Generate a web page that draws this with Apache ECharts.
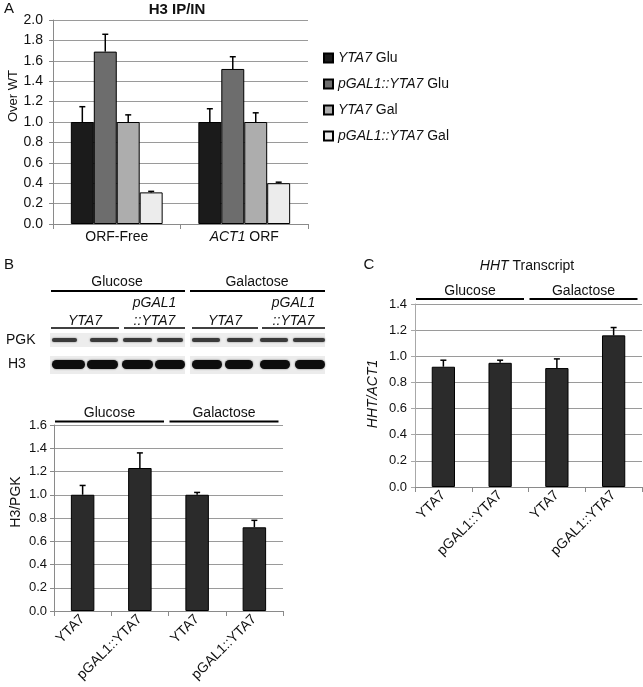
<!DOCTYPE html>
<html>
<head>
<meta charset="utf-8">
<script src="https://cdn.jsdelivr.net/npm/echarts@6/dist/echarts.min.js"></script>
<style>
html,body{margin:0;padding:0;background:#fff;}
#c{width:643px;height:687px;}
</style>
</head>
<body>
<div id="c"></div>
<script>
// ---------- Panel A data ----------
const aCategories = ['ORF-Free', 'ACT1 ORF'];
const aSeriesNames = ['YTA7 Glu', 'pGAL1::YTA7 Glu', 'YTA7 Gal', 'pGAL1::YTA7 Gal'];
const aYta7Glu = [1.00, 1.00];
const aPgalGlu = [1.69, 1.52];
const aYta7Gal = [1.00, 1.00];
const aPgalGal = [0.31, 0.40];
const aYta7GluErr = [0.15, 0.13];
const aPgalGluErr = [0.17, 0.12];
const aYta7GalErr = [0.07, 0.09];
const aPgalGalErr = [0.01, 0.01];
const aYTicks = [0, 2.0, 0.2]; // min, max, interval

// ---------- Panel B data ----------
const bCategories = ['YTA7', 'pGAL1::YTA7', 'YTA7', 'pGAL1::YTA7'];
const bGroups = ['Glucose', 'Galactose'];
const bValues = [1.00, 1.23, 1.00, 0.72];
const bErr = [0.08, 0.13, 0.02, 0.06];
const bYTicks = [0, 1.6, 0.2];

// ---------- Panel C data ----------
const cCategories = ['YTA7', 'pGAL1::YTA7', 'YTA7', 'pGAL1::YTA7'];
const cGroups = ['Glucose', 'Galactose'];
const cValues = [0.92, 0.95, 0.91, 1.16];
const cErr = [0.05, 0.02, 0.07, 0.06];
const cYTicks = [0, 1.4, 0.2];

const FONT = '"Liberation Sans", Arial, sans-serif';
const aValuesAll = [aYta7Glu, aPgalGlu, aYta7Gal, aPgalGal];
const aErrAll = [aYta7GluErr, aPgalGluErr, aYta7GalErr, aPgalGalErr];
const aColors = ['#1b1b1b', '#6d6d6d', '#adadad', '#ececec'];

function errSeries(axisIdx, vals, errs, offsetFrac) {
  return {
    type: 'custom',
    xAxisIndex: axisIdx, yAxisIndex: axisIdx,
    z: 5,
    silent: true,
    encode: {x: 0, y: [1, 2]},
    data: vals.map((v, i) => [i, v, v + errs[i]]),
    renderItem: function (params, api) {
      const c = api.coord([api.value(0), api.value(1)]);
      const t = api.coord([api.value(0), api.value(2)]);
      const band = api.size([1, 0])[0];
      const x = c[0] + offsetFrac * band;
      const st = {stroke: '#000', lineWidth: 1.5};
      return {type: 'group', children: [
        {type: 'line', shape: {x1: x, y1: c[1], x2: x, y2: t[1]}, style: st},
        {type: 'line', shape: {x1: x - 3, y1: t[1], x2: x + 3, y2: t[1]}, style: st}
      ]};
    }
  };
}

function italicFirst(name) {
  const i = name.indexOf(' ');
  if (i < 0) return '{i|' + name + '}';
  return '{i|' + name.slice(0, i) + '}' + name.slice(i);
}

function yAxisCfg(idx, ticks, fs, margin, lineColor) {
  return {
    type: 'value', gridIndex: idx, min: ticks[0], max: ticks[1], interval: ticks[2],
    axisLine: {show: true, lineStyle: {color: lineColor, width: 1}},
    axisTick: {show: true, length: 4, lineStyle: {color: lineColor}},
    splitLine: {show: true, lineStyle: {color: '#9a9a9a', width: 1}},
    axisLabel: {fontFamily: FONT, fontSize: fs, color: '#111', margin: margin,
      formatter: v => v.toFixed(1)}
  };
}

function xAxisCfg(idx, cats, rotate, fs, margin) {
  return {
    type: 'category', gridIndex: idx, data: cats,
    axisLine: {show: true, lineStyle: {color: '#8a8a8a', width: 1}},
    axisTick: {show: true, length: 5, lineStyle: {color: '#8a8a8a'}},
    axisLabel: {
      fontFamily: FONT, fontSize: fs, color: '#111', margin: margin, rotate: rotate,
      interval: 0,
      formatter: rotate ? (v => v) : (v => v === 'ACT1 ORF' ? '{i|ACT1} ORF' : v),
      rich: {i: {fontStyle: 'italic', fontFamily: FONT, fontSize: fs, color: '#111'}}
    }
  };
}

const series = [];
aSeriesNames.forEach((n, k) => {
  series.push({
    name: n, type: 'bar', xAxisIndex: 0, yAxisIndex: 0,
    data: aValuesAll[k], barWidth: '18%', barGap: '0%',
    itemStyle: {color: aColors[k], borderColor: '#000', borderWidth: 1},
    silent: true
  });
});
aSeriesNames.forEach((n, k) => {
  series.push(errSeries(0, aValuesAll[k], aErrAll[k], (k - 1.5) * 0.18));
});
series.push({
  name: 'H3/PGK', type: 'bar', xAxisIndex: 1, yAxisIndex: 1, data: bValues,
  barWidth: '41%', itemStyle: {color: '#2b2b2b', borderColor: '#000', borderWidth: 1}, silent: true
});
series.push(errSeries(1, bValues, bErr, 0));
series.push({
  name: 'HHT/ACT1', type: 'bar', xAxisIndex: 2, yAxisIndex: 2, data: cValues,
  barWidth: '41%', itemStyle: {color: '#2b2b2b', borderColor: '#000', borderWidth: 1}, silent: true
});
series.push(errSeries(2, cValues, cErr, 0));

const chart = echarts.init(document.getElementById('c'), null, {renderer: 'canvas'});
chart.setOption({
  animation: false,
  backgroundColor: '#fff',
  textStyle: {fontFamily: FONT},
  grid: [
    {left: 53, top: 20, width: 255, height: 204},
    {left: 54, top: 425, width: 229, height: 186},
    {left: 415, top: 304, width: 227, height: 183}
  ],
  xAxis: [
    xAxisCfg(0, aCategories, 0, 14, 6),
    xAxisCfg(1, bCategories, 45, 14, 6),
    xAxisCfg(2, cCategories, 45, 14, 6)
  ],
  yAxis: [
    yAxisCfg(0, aYTicks, 14, 10, '#8a8a8a'),
    yAxisCfg(1, bYTicks, 13, 7, '#8a8a8a'),
    yAxisCfg(2, cYTicks, 13, 8, '#a8a8a8')
  ],
  legend: {
    data: aSeriesNames, orient: 'vertical', left: 318, top: 45,
    icon: 'rect', itemWidth: 9, itemHeight: 9, itemGap: 10,
    formatter: italicFirst,
    textStyle: {fontFamily: FONT, fontSize: 14, color: '#111', lineHeight: 16,
      rich: {i: {fontStyle: 'italic', fontFamily: FONT, fontSize: 14, color: '#111', lineHeight: 16}}},
    selectedMode: false
  },
  series: series
});

// ---------- annotations ----------
const g = [];
function txt(x, y, s, opts) {
  g.push({type: 'text', x: x, y: y, silent: true,
    style: Object.assign({text: s, fontFamily: FONT, fontSize: 14, fill: '#111',
      align: 'center', verticalAlign: 'middle'}, opts || {})});
}
function richTxt(x, y, s, opts, rotation) {
  g.push({type: 'text', x: x, y: y, rotation: rotation || 0, silent: true,
    style: Object.assign({text: s, fontFamily: FONT, fontSize: 14, fill: '#111',
      align: 'center', verticalAlign: 'middle',
      rich: {i: {fontStyle: 'italic', fontFamily: FONT, fontSize: (opts && opts.fontSize) || 14, fill: '#111'}}}, opts || {})});
}
function line(x1, y1, x2, y2, w, col) {
  g.push({type: 'line', silent: true, shape: {x1: x1, y1: y1, x2: x2, y2: y2},
    style: {stroke: col || '#000', lineWidth: w}});
}

// Panel letters and titles
txt(9, 9, 'A', {fontSize: 15});
txt(9, 265, 'B', {fontSize: 15});
txt(369, 265, 'C', {fontSize: 15});
txt(177, 10, 'H3 IP/IN', {fontWeight: 'bold', fontSize: 15});
richTxt(527, 266, '{i|HHT} Transcript');

// Y axis names
richTxt(13, 96, 'Over WT', {fontSize: 13}, Math.PI / 2);
richTxt(16, 502, 'H3/PGK', {fontSize: 14}, Math.PI / 2);
richTxt(373, 394, '{i|HHT/ACT1}', {fontSize: 14}, Math.PI / 2);

// Group header lines computed from axes
function headers(axisIdx, yTop, groups, lineOff, textOff) {
  const p0 = chart.convertToPixel({xAxisIndex: axisIdx}, 0);
  const p1 = chart.convertToPixel({xAxisIndex: axisIdx}, 1);
  const band = p1 - p0;
  const yPix = chart.convertToPixel({yAxisIndex: axisIdx}, yTop);
  groups.forEach((name, gi) => {
    const left = p0 + band * (2 * gi) - band / 2 + 1;
    const right = p0 + band * (2 * gi + 1) + band / 2 - 4.5;
    line(left, yPix - lineOff, right, yPix - lineOff, 2);
    txt((left + right) / 2, yPix - textOff, name);
  });
}
headers(1, bYTicks[1], bGroups, 3.5, 12);
headers(2, cYTicks[1], cGroups, 5, 13);

// ---------- Panel B blot (image-like decoration) ----------
txt(117, 282, 'Glucose');
txt(257, 282, 'Galactose');
line(51, 291, 185, 291, 2);
line(190, 291, 325, 291, 2);
[[51, 119, 'YTA7'], [124, 185, 'pGAL1'], [192, 258, 'YTA7'], [262, 325, 'pGAL1']].forEach(s => {
  line(s[0], 328, s[1], 328, 1.5);
  const cx = (s[0] + s[1]) / 2;
  if (s[2] === 'YTA7') {
    txt(cx, 321, 'YTA7', {fontStyle: 'italic'});
  } else {
    txt(cx, 303, 'pGAL1', {fontStyle: 'italic'});
    txt(cx, 321, '::YTA7', {fontStyle: 'italic'});
  }
});
txt(6, 340, 'PGK', {align: 'left'});
txt(8, 364, 'H3', {align: 'left'});
[[50, 185], [190, 325]].forEach(r => {
  g.push({type: 'rect', silent: true, shape: {x: r[0], y: 333, width: r[1] - r[0], height: 14},
    style: {fill: '#ededed'}});
  g.push({type: 'rect', silent: true, shape: {x: r[0], y: 356, width: r[1] - r[0], height: 18},
    style: {fill: '#ececec'}});
});
[[52, 77], [90, 118], [123, 152], [157, 183], [192, 220], [227, 253], [260, 288], [293, 325]].forEach(b => {
  g.push({type: 'rect', silent: true, shape: {x: b[0], y: 338, width: b[1] - b[0], height: 4, r: 2},
    style: {fill: '#3a3a3a', shadowBlur: 2, shadowColor: 'rgba(0,0,0,0.5)'}});
});
[[52, 85], [87, 118], [122, 153], [155, 185], [192, 222], [225, 253], [260, 290], [295, 325]].forEach(b => {
  g.push({type: 'rect', silent: true, shape: {x: b[0], y: 360, width: b[1] - b[0], height: 9, r: 4.5},
    style: {fill: '#0d0d0d', shadowBlur: 2, shadowColor: 'rgba(0,0,0,0.6)'}});
});

chart.setOption({graphic: {elements: g}});
</script>
</body>
</html>
